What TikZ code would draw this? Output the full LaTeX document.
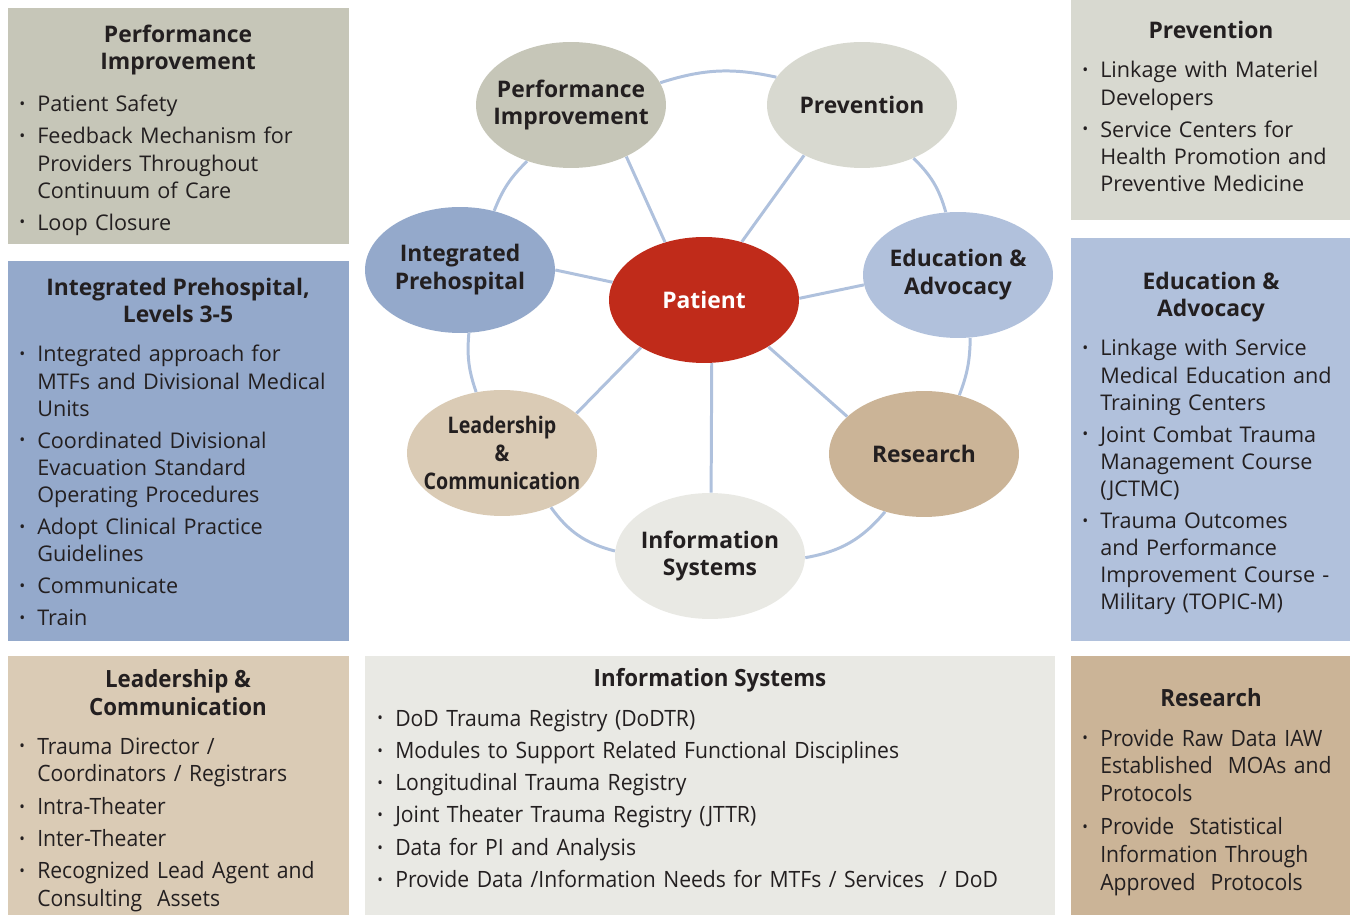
\documentclass[tikz,border=0pt]{standalone}
\usepackage{fontspec}
\setmainfont{Open Sans}
\newfontfamily\condfont[FakeStretch=0.94]{Open Sans}
\newfontfamily\tightfont[FakeStretch=0.86]{Open Sans}
\usetikzlibrary{shapes.geometric}
\definecolor{pigray}{HTML}{C6C6B8}
\definecolor{prevgray}{HTML}{D8D9D0}
\definecolor{ipblue}{HTML}{94A9CB}
\definecolor{edblue}{HTML}{B1C1DC}
\definecolor{leadtan}{HTML}{DACBB5}
\definecolor{restan}{HTML}{CBB497}
\definecolor{infogray}{HTML}{E9E9E4}
\definecolor{patred}{HTML}{C02B1A}
\definecolor{ringblue}{HTML}{AFC1DD}
\definecolor{ink}{HTML}{231F20}
\newcommand{\bul}{\makebox[10.2pt][l]{\raisebox{1.2pt}{\fontsize{9}{9}\selectfont\textbullet}}}
\newcommand{\indt}{\hspace*{10.2pt}}
\tikzset{
  bubble/.style={ellipse, minimum width=3.8cm, minimum height=2.52cm, inner sep=-8pt, align=center, text=ink, font=\bfseries\fontsize{13}{15.9}\selectfont},
  ring/.style={draw=ringblue, line width=1.7pt},
  head/.style={anchor=base, align=center, inner sep=0pt, text=ink, font=\bfseries\fontsize{13}{15.9}\selectfont},
  itemlist/.style={anchor=base west, inner sep=0pt, text width=#1, align=left, text=ink, font=\fontsize{12.3}{15.4}\selectfont},
  itemlist/.default=8cm,
  condlist/.style={itemlist=#1, font=\condfont\fontsize{12.8}{15.9}\selectfont},
  condlist/.default=16cm,
  condhead/.style={head, font=\condfont\bfseries\fontsize{13.5}{15.9}\selectfont}
}
\begin{document}
\begin{tikzpicture}[x=0.02cm,y=-0.02cm]
\useasboundingbox (0,0) rectangle (1353,915);
\fill[pigray] (8,8) rectangle (349,244);
\fill[ipblue] (8,261) rectangle (349,641);
\fill[leadtan] (8,656) rectangle (349,915);
\fill[infogray] (365,656) rectangle (1055,915);
\fill[restan] (1071,656) rectangle (1350,915);
\fill[prevgray] (1071,0) rectangle (1350,220);
\fill[edblue] (1071,238) rectangle (1350,641);

\node[bubble, fill=pigray] (pi) at (571,105) {Performance\\Improvement};
\node[bubble, fill=prevgray] (prev) at (862,105) {Prevention};
\node[bubble, fill=ipblue] (ip) at (460,270) {Integrated\\Prehospital};
\node[bubble, fill=patred, text=white] (pat) at (704,300) {Patient};
\node[bubble, fill=edblue] (ed) at (958,275) {Education \&\\Advocacy};
\node[bubble, fill=leadtan, font=\tightfont\bfseries\fontsize{13}{15.9}\selectfont] (lead) at (502,453) {Leadership\\\&\\Communication};
\node[bubble, fill=restan] (res) at (924,454) {Research};
\node[bubble, fill=infogray] (info) at (710,556) {Information\\Systems};

\draw[ring] (pi.14) to[bend left=15] (prev.162);
\draw[ring] (prev.-46) to[bend left=15] (ed.101);
\draw[ring] (ed.-79) to[bend left=10] (res.59);
\draw[ring] (res.-124) to[bend left=20] (info.-1);
\draw[ring] (info.177) to[bend left=20] (lead.-48);
\draw[ring] (lead.113) to[bend left=12] (ip.-82);
\draw[ring] (ip.60) to[bend left=12] (pi.-128);
\draw[ring] (pat.124) -- (pi.-43);
\draw[ring] (pat.57) -- (prev.221);
\draw[ring] (pat.1) -- (ed.186);
\draw[ring] (pat.169) -- (ip.0);
\draw[ring] (pat.217) -- (lead.28);
\draw[ring] (pat.324) -- (res.154);
\draw[ring] (pat.-83) -- (info.89);

\node[head] (pihead) at (178,70) {Performance\\Improvement};
\node[itemlist] (pilist) at (19,112) {\bul Patient Safety\\[2.8pt]
\bul Feedback Mechanism for\\ \indt Providers Throughout\\ \indt Continuum of Care\\[2.8pt]
\bul Loop Closure};

\node[head] (iphead) at (178,323) {Integrated Prehospital,\\Levels 3-5};
\node[itemlist] (iplist) at (19,362) {\bul Integrated approach for\\ \indt MTFs and Divisional Medical\\ \indt Units\\[2.8pt]
\bul Coordinated Divisional\\ \indt Evacuation Standard\\ \indt Operating Procedures\\[2.8pt]
\bul Adopt Clinical Practice\\ \indt Guidelines\\[2.8pt]
\bul Communicate\\[2.8pt]
\bul Train};

\node[head] (prevhead) at (1211,39) {Prevention};
\node[itemlist] (prevlist) at (1082,78) {\bul Linkage with Materiel\\ \indt Developers\\[2.8pt]
\bul Service Centers for\\ \indt Health Promotion and\\ \indt Preventive Medicine};

\node[head] (edhead) at (1211,317) {Education \&\\Advocacy};
\node[itemlist] (edlist) at (1082,356) {\bul Linkage with Service\\ \indt Medical Education and\\ \indt Training Centers\\[2.8pt]
\bul Joint Combat Trauma\\ \indt Management Course\\ \indt (JCTMC)\\[2.8pt]
\bul Trauma Outcomes\\ \indt and Performance\\ \indt Improvement Course -\\ \indt Military (TOPIC-M)};

\node[condhead] (leadhead) at (178,715) {Leadership \&\\Communication};
\node[condlist] (leadlist) at (19,754) {\bul Trauma Director /\\ \indt Coordinators / Registrars\\[2.5pt]
\bul Intra-Theater\\[2.5pt]
\bul Inter-Theater\\[2.5pt]
\bul Recognized Lead Agent and\\ \indt Consulting\ \ Assets};

\node[condhead] (infohead) at (710,686) {Information Systems};
\node[condlist] (infolist) at (377,726) {\bul DoD Trauma Registry (DoDTR)\\[2.5pt]
\bul Modules to Support Related Functional Disciplines\\[2.5pt]
\bul Longitudinal Trauma Registry\\[2.5pt]
\bul Joint Theater Trauma Registry (JTTR)\\[2.5pt]
\bul Data for PI and Analysis\\[2.5pt]
\bul Provide Data /Information Needs for MTFs / Services \ / DoD};

\node[condhead] (reshead) at (1211,706) {Research};
\node[condlist] (reslist) at (1082,746) {\bul Provide Raw Data IAW\\ \indt Established\ \ MOAs and\\ \indt Protocols\\[2.5pt]
\bul Provide\ \ Statistical\\ \indt Information Through\\ \indt Approved\ \ Protocols};
\end{tikzpicture}
\end{document}
